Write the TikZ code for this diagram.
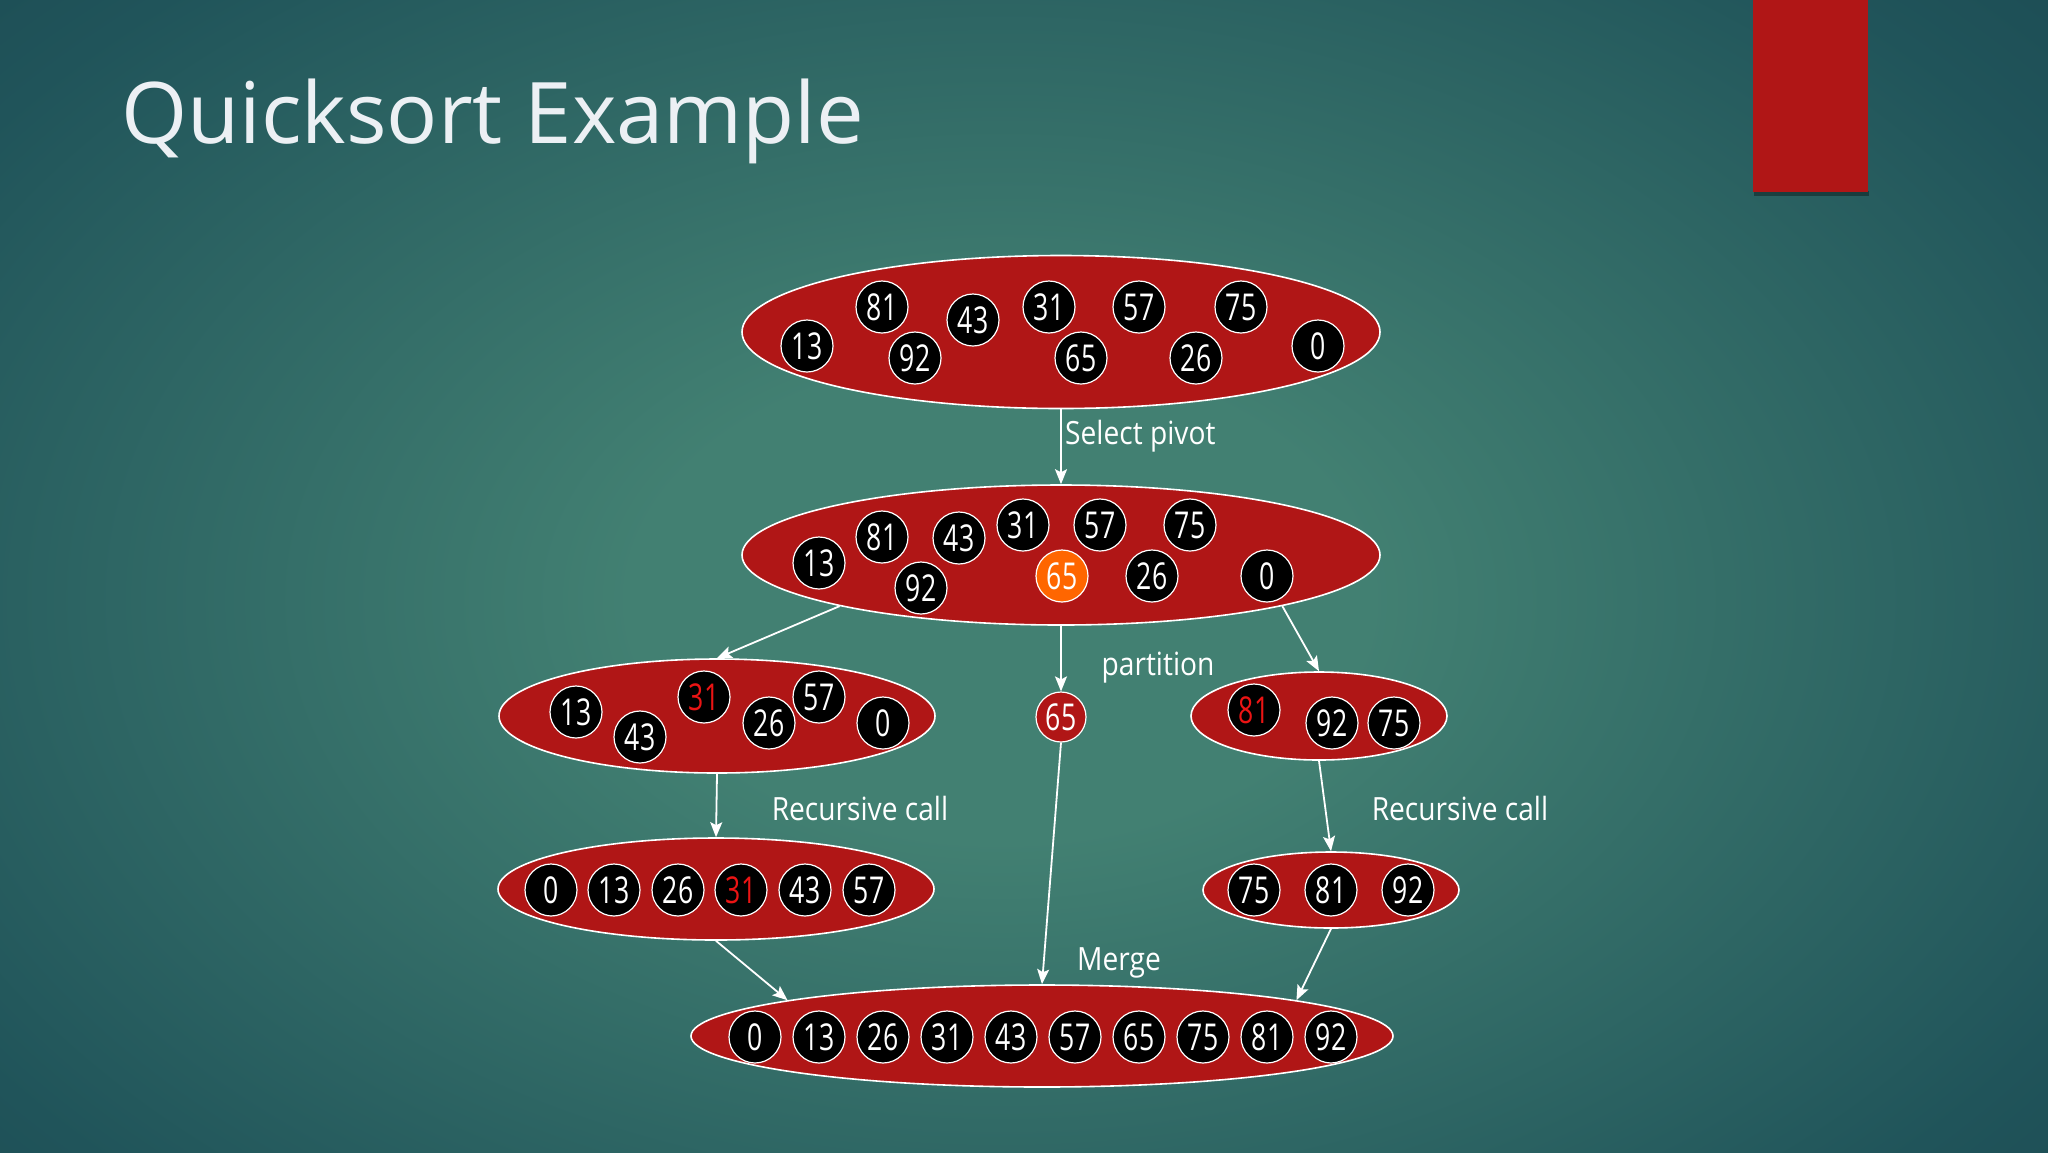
\documentclass[tikz,border=0pt]{standalone}
\usepackage{fontspec}
\setmainfont{Open Sans}
\newfontfamily\numfont[FakeStretch=0.72]{Open Sans}
\newfontfamily\labfont[FakeStretch=0.88]{Open Sans}
\usetikzlibrary{shapes.geometric,arrows.meta}
\definecolor{bgout}{RGB}{17,50,64}
\definecolor{bgmid}{RGB}{32,84,90}
\definecolor{bgin}{RGB}{66,128,114}
\definecolor{ered}{RGB}{176,22,22}
\definecolor{porange}{RGB}{255,102,0}
\definecolor{numred}{RGB}{235,20,20}
\definecolor{titlecol}{RGB}{236,240,244}
\pgfdeclareradialshading{bgglow}{\pgfpoint{0bp}{0bp}}{color(0bp)=(bgin); color(8bp)=(bgin); color(27bp)=(bgmid); color(48bp)=(bgout); color(80bp)=(bgout)}
\begin{document}
\begin{tikzpicture}[x=1pt,y=-1pt,
  num/.style={circle, draw=white, line width=1.2pt, fill=black, text=white,
    minimum size=52pt, inner sep=0pt, font=\numfont\fontsize{37}{37}\selectfont},
  rednum/.style={num, text=numred},
  group/.style={ellipse, draw=white, line width=1.6pt, fill=ered, inner sep=0pt},
  conn/.style={draw=white, line width=1.8pt, -{Stealth[length=15pt,width=12pt,inset=3pt]}},
  lab/.style={text=white, inner sep=0pt, font=\labfont\fontsize{32}{36}\selectfont}]
\useasboundingbox (0,0) rectangle (2048,1152);
\clip (0,0) rectangle (2048,1152);
\fill[bgout] (0,0) rectangle (2048,1152);
\shade[shading=bgglow] (-150,-150) rectangle (2150,1350);
% red tab
\fill[black,opacity=0.35] (1754,191) rectangle (1869,196);
\fill[ered] (1753,0) rectangle (1868,192);
% title
\node[anchor=base west, inner sep=0pt, text=titlecol, font=\fontsize{85}{100}\selectfont] (title) at (121,143) {Quicksort Example};
% groups
\node[group, minimum width=638pt, minimum height=153pt] (top) at (1061,332) {};
\node[group, minimum width=638pt, minimum height=140pt] (mid) at (1061,555) {};
\node[group, minimum width=436pt, minimum height=114pt] (left) at (717,716) {};
\node[group, minimum width=256pt, minimum height=88pt] (right) at (1319,716) {};
\node[group, minimum width=436pt, minimum height=102pt] (leftbot) at (716,889) {};
\node[group, minimum width=256pt, minimum height=76pt] (rightbot) at (1331,890) {};
\node[group, minimum width=702pt, minimum height=102pt] (merge) at (1042,1036) {};
% top numbers
\foreach \n/\x/\y in {13/807/346, 81/882/307, 92/915/358, 43/973/320, 31/1049/307, 65/1081/358, 57/1139/307, 26/1196/358, 75/1241/307, 0/1318/346}
  \node[num] (a\n) at (\x,\y) {\n};
% second numbers
\foreach \n/\x/\y in {13/819/563, 81/882/537, 92/921/588, 43/959/538, 31/1023/525, 57/1100/525, 75/1190/525, 26/1152/576, 0/1267/576}
  \node[num] (b\n) at (\x,\y) {\n};
\node[num, fill=porange] (b65) at (1062,576) {65};
% left partition
\foreach \n/\x/\y in {13/576/712, 43/640/737, 26/769/723, 57/819/697, 0/883/723}
  \node[num] (c\n) at (\x,\y) {\n};
\node[rednum] (c31) at (704,697) {31};
% pivot
\node[num, fill=ered, minimum size=50pt] (p65) at (1061,717) {65};
% right partition
\node[rednum] (d81) at (1254,710) {81};
\node[num] (d92) at (1332,723) {92};
\node[num] (d75) at (1394,723) {75};
% left sorted
\foreach \n/\x in {0/551, 13/614, 26/678, 43/805, 57/869}
  \node[num] (e\n) at (\x,890) {\n};
\node[rednum] (e31) at (741,890) {31};
% right sorted
\foreach \n/\x in {75/1254, 81/1331, 92/1408}
  \node[num] (f\n) at (\x,890) {\n};
% merged
\foreach \n/\x in {0/755, 13/819, 26/883, 31/947, 43/1011, 57/1075, 65/1139, 75/1203, 81/1267, 92/1331}
  \node[num] (g\n) at (\x,1037) {\n};
% connectors
\draw[conn] (top.south) -- (mid.north);
\draw[conn] (mid.193) -- (left.north);
\draw[conn] (mid.south) -- (p65.north);
\draw[conn] (mid.-13) -- (right.north);
\draw[conn] (left.south) -- (leftbot.north);
\draw[conn] (right.south) -- (rightbot.north);
\draw[conn] (leftbot.south) -- (merge.172);
\draw[conn] (p65.south) -- (merge.north);
\draw[conn] (rightbot.south) -- (merge.8);
% labels
\node[lab, anchor=west] (lsel) at (1065,436) {Select pivot};
\node[lab] (lpart) at (1158,668) {partition};
\node[lab] (lrec1) at (860,808) {Recursive call};
\node[lab] (lrec2) at (1460,808) {Recursive call};
\node[lab] (lmerge) at (1119,963) {Merge};
\end{tikzpicture}
\end{document}
